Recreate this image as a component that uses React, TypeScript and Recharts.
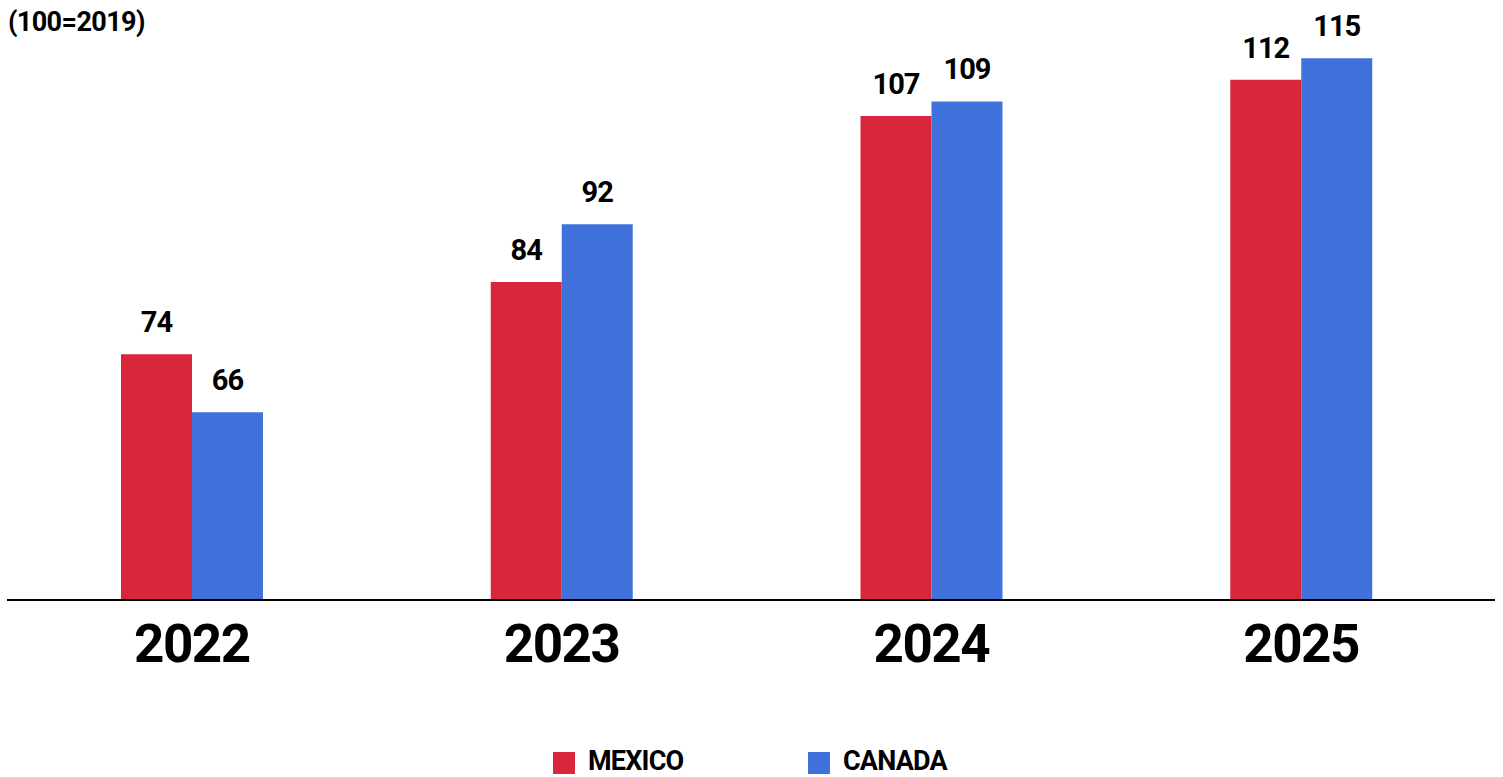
import { BarChart, Bar, XAxis, YAxis, LabelList } from "recharts";

const YEARS = ["2022", "2023", "2024", "2025"];
const MEXICO = [74, 84, 107, 112];
const CANADA = [66, 92, 109, 115];

const RED = "#D8263A";
const BLUE = "#4172DC";
const FONT = "Roboto, 'Noto Sans', sans-serif";

const data = YEARS.map((year, i) => ({
  year,
  mexico: MEXICO[i],
  canada: CANADA[i],
}));

const LEGEND = [
  { label: "MEXICO", color: RED, left: 553 },
  { label: "CANADA", color: BLUE, left: 808 },
];

export default function App() {
  return (
    <div
      style={{
        position: "absolute",
        left: 0,
        top: 0,
        width: 1503,
        height: 777,
        overflow: "hidden",
        background: "#fff",
        fontFamily: FONT,
      }}
    >
      <div
        style={{
          position: "absolute",
          left: 8,
          top: 7,
          fontSize: 27,
          fontWeight: 700,
          letterSpacing: -0.6,
          lineHeight: "30px",
          color: "#000",
        }}
      >
        (100=2019)
      </div>

      <BarChart
        width={1503}
        height={700}
        data={data}
        margin={{ top: 22, right: 8, left: 7, bottom: 0 }}
        barCategoryGap={114}
        barGap={0}
      >
        <YAxis hide domain={[40, 120]} allowDataOverflow />
        <XAxis
          dataKey="year"
          height={100}
          padding={{ left: 0, right: 9 }}
          axisLine={{ stroke: "#000", strokeWidth: 2 }}
          tickLine={false}
          tickSize={0}
          tickMargin={24}
          tick={{
            fill: "#000",
            fontSize: 53,
            fontWeight: 700,
            fontFamily: FONT,
            letterSpacing: -1.5,
          }}
        />
        <Bar dataKey="mexico" fill={RED} isAnimationActive={false}>
          <LabelList
            dataKey="mexico"
            position="top"
            offset={22}
            fill="#000"
            fontSize={29}
            fontWeight={700}
            fontFamily={FONT}
            letterSpacing={-1}
          />
        </Bar>
        <Bar dataKey="canada" fill={BLUE} isAnimationActive={false}>
          <LabelList
            dataKey="canada"
            position="top"
            offset={22}
            fill="#000"
            fontSize={29}
            fontWeight={700}
            fontFamily={FONT}
            letterSpacing={-1}
          />
        </Bar>
      </BarChart>

      {LEGEND.map((item) => (
        <div
          key={item.label}
          style={{
            position: "absolute",
            left: item.left,
            top: 747,
            display: "flex",
            alignItems: "flex-start",
          }}
        >
          <div
            style={{ width: 22, height: 22, marginTop: 5, background: item.color }}
          />
          <div
            style={{
              marginLeft: 13,
              fontSize: 27,
              fontWeight: 700,
              letterSpacing: -0.8,
              lineHeight: "28px",
              color: "#000",
            }}
          >
            {item.label}
          </div>
        </div>
      ))}
    </div>
  );
}
